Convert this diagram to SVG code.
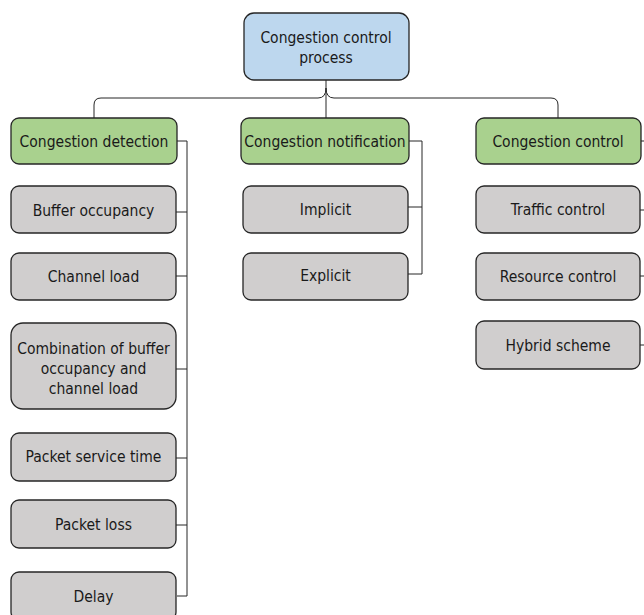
<svg xmlns="http://www.w3.org/2000/svg" width="644" height="615" viewBox="0 0 644 615">
<style>
.box{stroke:#262626;stroke-width:1.3}
.root{fill:#bdd7ee}
.grn{fill:#a9d18e}
.gry{fill:#d0cece}
.t{font-family:"DejaVu Sans Condensed","DejaVu Sans",sans-serif;font-stretch:condensed;font-size:15.5px;fill:#1a1a1a;text-anchor:middle}
.c{fill:none;stroke:#262626;stroke-width:1}
</style>
<rect width="644" height="615" fill="#ffffff"/>
<g id="connectors">
<path class="c" d="M326,80 V118"/>
<path class="c" d="M326,88 Q326,98 318,98 H101 Q94,98 94,105 V118"/>
<path class="c" d="M326,88 Q326,98 334,98 H551 Q558,98 558,105 V118"/>
<path class="c" d="M177,141 H187 V596 H177"/>
<path class="c" d="M176,212 H187 M176,276 H187 M176,369 H187 M176,458 H187 M176,525 H187"/>
<path class="c" d="M409,141 H422 V274 H408 M408,207 H422"/>
<path class="c" d="M641,141 H650 M640,210 H650 M640,276 H650 M640,345 H650"/>
</g>
<g id="root"><rect class="box root" x="244" y="13" width="165" height="67" rx="10"/><text class="t" x="326" y="43">Congestion control</text><text class="t" x="326" y="63">process</text></g>
<g id="detection"><rect class="box grn" x="11" y="118" width="166" height="46" rx="8"/><text class="t" x="94" y="147">Congestion detection</text></g>
<g id="notification"><rect class="box grn" x="241" y="118" width="168" height="46" rx="8"/><text class="t" x="325" y="147">Congestion notification</text></g>
<g id="control"><rect class="box grn" x="476" y="118" width="165" height="46" rx="8"/><text class="t" x="558" y="147">Congestion control</text></g>
<g id="buffer"><rect class="box gry" x="11" y="186" width="165" height="47" rx="8"/><text class="t" x="93.5" y="216">Buffer occupancy</text></g>
<g id="channel"><rect class="box gry" x="11" y="253" width="165" height="47" rx="8"/><text class="t" x="93.5" y="282">Channel load</text></g>
<g id="combination"><rect class="box gry" x="11" y="323" width="165" height="86" rx="12"/><text class="t" x="93.5" y="354">Combination of buffer</text><text class="t" x="93.5" y="374">occupancy and</text><text class="t" x="93.5" y="394">channel load</text></g>
<g id="service"><rect class="box gry" x="11" y="433" width="165" height="48" rx="8"/><text class="t" x="93.5" y="462">Packet service time</text></g>
<g id="loss"><rect class="box gry" x="11" y="500" width="165" height="48" rx="8"/><text class="t" x="93.5" y="530">Packet loss</text></g>
<g id="delay"><rect class="box gry" x="11" y="572" width="165" height="48" rx="8"/><text class="t" x="93.5" y="602">Delay</text></g>
<g id="implicit"><rect class="box gry" x="243" y="186" width="165" height="47" rx="8"/><text class="t" x="325.5" y="215">Implicit</text></g>
<g id="explicit"><rect class="box gry" x="243" y="253" width="165" height="47" rx="8"/><text class="t" x="325.5" y="281">Explicit</text></g>
<g id="traffic"><rect class="box gry" x="476" y="186" width="164" height="47" rx="8"/><text class="t" x="558" y="215">Traffic control</text></g>
<g id="resource"><rect class="box gry" x="476" y="253" width="164" height="47" rx="8"/><text class="t" x="558" y="282">Resource control</text></g>
<g id="hybrid"><rect class="box gry" x="476" y="321" width="164" height="48" rx="8"/><text class="t" x="558" y="351">Hybrid scheme</text></g>
</svg>
